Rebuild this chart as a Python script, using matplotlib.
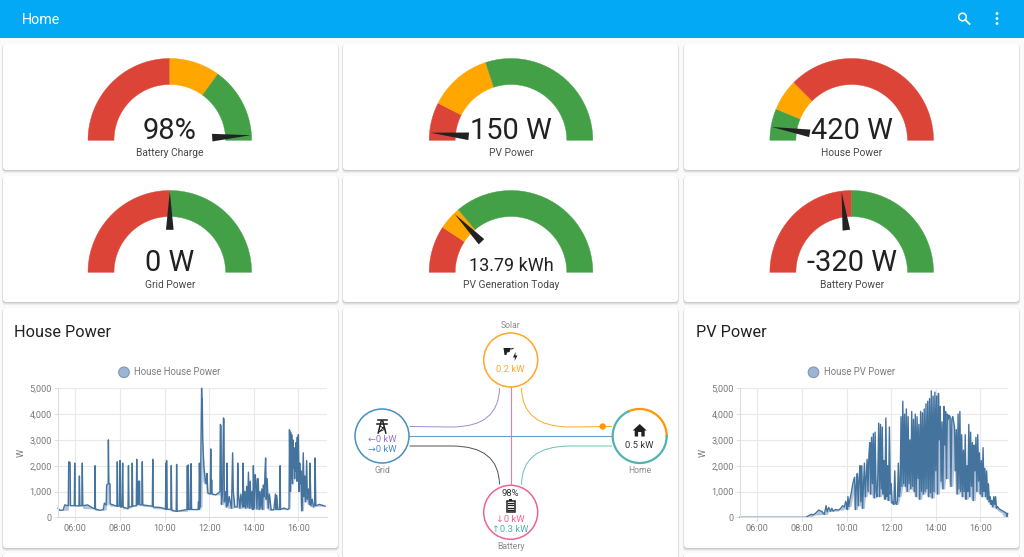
import numpy as np
import matplotlib
matplotlib.use('Agg')
import matplotlib.pyplot as plt
from matplotlib.patches import FancyBboxPatch, Circle, Polygon, Rectangle, PathPatch
from matplotlib.path import Path

plt.rcParams['font.family'] = ['Roboto', 'DejaVu Sans']

#%% Data

gauge_labels = ['Battery Charge', 'PV Power', 'House Power', 'Grid Power', 'PV Generation Today', 'Battery Power']
gauge_texts = ['98%', '150 W', '420 W', '0 W', '13.79 kWh', '-320 W']
gauge_values = [98, 150, 420, 0, 13.79, -320]
gauge_mins = [0, 0, 0, -5000, 0, -4000]
gauge_maxs = [100, 5000, 8000, 5000, 54, 4000]
# segment upper bounds and colours
RED, ORANGE, GREEN = '#db4437', '#ffa600', '#43a047'
gauge_stops = [[50, 70, 100], [750, 2000, 5000], [1000, 2000, 8000], [0, 5000], [10, 15, 54], [0, 4000]]
gauge_cols = [[RED, ORANGE, GREEN], [RED, ORANGE, GREEN], [GREEN, ORANGE, RED], [RED, GREEN], [RED, ORANGE, GREEN], [RED, GREEN]]

tick_hours = [6, 8, 10, 12, 14, 16]
tick_labels = ['06:00', '08:00', '10:00', '12:00', '14:00', '16:00']
y_ticks = [0, 1000, 2000, 3000, 4000, 5000]
y_labels = ['0', '1,000', '2,000', '3,000', '4,000', '5,000']

house_hours = [
    5.22, 5.30, 5.45, 5.52, 5.68, 5.70, 5.76, 5.78, 5.95, 5.97,
    5.99, 6.16, 6.18, 6.20, 6.29, 6.31, 6.33, 6.55, 6.80, 6.87,
    6.88, 6.90, 7.10, 7.25, 7.30, 7.38, 7.40, 7.47, 7.48, 7.50,
    7.55, 7.56, 7.86, 7.88, 7.90, 7.98, 8.00, 8.02, 8.08, 8.10,
    8.12, 8.14, 8.36, 8.38, 8.40, 8.53, 8.55, 8.57, 8.73, 8.75,
    8.77, 8.82, 8.83, 8.88, 8.89, 8.98, 9.00, 9.02, 9.45, 9.47,
    9.49, 9.80, 10.04, 10.06, 10.08, 10.09, 10.11, 10.28, 10.30, 10.32,
    10.52, 10.54, 10.56, 11.00, 11.02, 11.04, 11.06, 11.08, 11.15, 11.17,
    11.19, 11.21, 11.50, 11.52, 11.54, 11.56, 11.60, 11.66, 11.68, 11.69,
    11.71, 11.76, 11.83, 11.87, 11.90, 11.94, 12.05, 12.07, 12.09, 12.11,
    12.13, 12.30, 12.42, 12.48, 12.50, 12.53, 12.55, 12.60, 12.64, 12.66,
    12.68, 12.72, 12.78, 12.80, 12.83, 12.90, 13.00, 13.05, 13.08, 13.15,
    13.26, 13.28, 13.31, 13.38, 13.42, 13.50, 13.52, 13.55, 13.60, 13.64,
    13.68, 13.72, 13.76, 13.80, 13.84, 13.88, 13.92, 13.96, 13.98, 14.02,
    14.06, 14.10, 14.14, 14.18, 14.20, 14.24, 14.28, 14.32, 14.36, 14.40,
    14.43, 14.47, 14.50, 14.53, 14.56, 14.60, 14.65, 14.70, 14.78, 14.90,
    14.97, 15.00, 15.03, 15.08, 15.16, 15.18, 15.20, 15.35, 15.52, 15.58,
    15.60, 15.63, 15.65, 15.68, 15.70, 15.73, 15.75, 15.78, 15.80, 15.83,
    15.85, 15.88, 15.90, 15.93, 15.95, 15.98, 16.00, 16.03, 16.06, 16.09,
    16.12, 16.15, 16.18, 16.22, 16.25, 16.28, 16.32, 16.37, 16.40, 16.45,
    16.50, 16.52, 16.56, 16.62, 16.68, 16.73, 16.75, 16.78, 16.95, 17.20,
]
house_watts = [
    350, 270, 280, 480, 450, 2150, 2130, 450, 450, 2100,
    450, 440, 1600, 450, 450, 2100, 450, 480, 350, 330,
    2000, 320, 270, 300, 550, 480, 1250, 1300, 3000, 1300,
    1300, 520, 430, 2150, 430, 450, 2200, 400, 400, 1300,
    2100, 400, 330, 2000, 400, 420, 2100, 430, 450, 2250,
    500, 500, 1400, 1400, 480, 480, 2150, 480, 430, 2250,
    400, 380, 330, 2100, 300, 2200, 320, 300, 2000, 280,
    230, 2050, 230, 300, 2000, 300, 2030, 300, 300, 2050,
    2080, 300, 300, 600, 300, 2100, 400, 5000, 4000, 4600,
    3000, 2000, 1400, 1300, 1700, 950, 900, 2650, 950, 1450,
    900, 870, 950, 1000, 3600, 3550, 500, 1000, 3850, 3800,
    600, 1000, 400, 2100, 450, 800, 350, 2500, 1000, 400,
    400, 2100, 900, 350, 900, 400, 2100, 400, 1000, 350,
    1200, 400, 1750, 350, 1400, 350, 1000, 300, 2000, 350,
    1650, 1400, 320, 1500, 1400, 300, 1000, 350, 1100, 300,
    1250, 800, 1700, 2300, 700, 1500, 350, 900, 280, 300,
    900, 300, 850, 300, 300, 2000, 300, 360, 300, 350,
    3400, 1000, 3300, 1500, 3200, 1300, 3000, 1900, 2700, 1500,
    2600, 1800, 2900, 1400, 3100, 1500, 3200, 1000, 2100, 1300,
    1800, 250, 1100, 2500, 800, 1600, 600, 2200, 700, 1100,
    500, 2100, 450, 700, 400, 500, 2300, 450, 500, 430,
]

pv_hours = [
    5.22, 6.00, 7.00, 8.00, 8.17, 8.30, 8.42, 8.50, 8.60, 8.75,
    8.90, 9.00, 9.08, 9.13, 9.20, 9.28, 9.34, 9.40, 9.50, 9.62,
    9.72, 9.82, 9.90, 9.96, 10.00, 10.03, 10.06, 10.10, 10.14, 10.20,
    10.24, 10.28, 10.32, 10.36, 10.40, 10.44, 10.48, 10.52, 10.56, 10.60,
    10.64, 10.68, 10.72, 10.76, 10.80, 10.84, 10.88, 10.92, 10.96, 11.00,
    11.04, 11.08, 11.12, 11.16, 11.20, 11.24, 11.28, 11.32, 11.36, 11.40,
    11.44, 11.48, 11.52, 11.56, 11.60, 11.64, 11.68, 11.72, 11.76, 11.80,
    11.84, 11.88, 11.92, 11.96, 12.00, 12.04, 12.08, 12.12, 12.16, 12.20,
    12.24, 12.28, 12.32, 12.36, 12.40, 12.44, 12.48, 12.52, 12.56, 12.60,
    12.64, 12.68, 12.72, 12.76, 12.80, 12.84, 12.88, 12.92, 12.96, 13.00,
    13.04, 13.08, 13.12, 13.16, 13.20, 13.24, 13.28, 13.32, 13.36, 13.40,
    13.44, 13.48, 13.52, 13.56, 13.60, 13.64, 13.68, 13.72, 13.76, 13.80,
    13.84, 13.88, 13.92, 13.96, 14.00, 14.04, 14.08, 14.12, 14.16, 14.20,
    14.24, 14.28, 14.32, 14.36, 14.40, 14.44, 14.48, 14.52, 14.56, 14.60,
    14.64, 14.68, 14.72, 14.76, 14.80, 14.84, 14.88, 14.92, 14.96, 15.00,
    15.04, 15.08, 15.12, 15.16, 15.20, 15.24, 15.28, 15.32, 15.36, 15.40,
    15.44, 15.48, 15.52, 15.56, 15.60, 15.64, 15.68, 15.72, 15.76, 15.80,
    15.84, 15.88, 15.92, 15.96, 16.00, 16.04, 16.08, 16.12, 16.16, 16.20,
    16.24, 16.28, 16.32, 16.36, 16.40, 16.44, 16.48, 16.52, 16.56, 16.60,
    16.64, 16.68, 16.72, 16.76, 16.85, 16.95, 17.05, 17.15, 17.20, 17.22,
]
pv_watts = [
    0, 0, 0, 0, 0, 60, 120, 90, 150, 280,
    220, 110, 450, 220, 380, 230, 350, 240, 300, 280,
    330, 450, 400, 620, 500, 300, 800, 420, 650, 900,
    1100, 1300, 1450, 1550, 300, 1250, 1700, 450, 1500, 2000,
    600, 2000, 350, 1300, 2100, 800, 1500, 2250, 1000, 2400,
    2900, 900, 3100, 1300, 3250, 750, 3300, 1000, 800, 1600,
    3650, 800, 3600, 1100, 3500, 900, 2200, 700, 3850, 800,
    2000, 650, 3500, 900, 1300, 550, 600, 500, 1800, 550,
    500, 650, 2100, 800, 1000, 3900, 1200, 4500, 1300, 4000,
    1200, 4200, 1000, 3900, 1300, 3000, 1100, 4100, 1200, 3800,
    1000, 4000, 800, 3900, 1500, 3600, 700, 4100, 1000, 4050,
    900, 4200, 1000, 4400, 1100, 4500, 800, 4600, 950, 4900,
    750, 4700, 1000, 4850, 1800, 4700, 900, 4800, 3000, 4300,
    1400, 3700, 1100, 4300, 2800, 4100, 1500, 4000, 3800, 3950,
    3900, 1200, 3800, 3900, 3700, 3500, 1800, 3400, 900, 4000,
    1100, 4100, 1000, 3200, 800, 2600, 1000, 3200, 700, 2000,
    1000, 3600, 800, 3300, 1200, 2900, 650, 2800, 1800, 3100,
    1000, 3200, 1400, 2500, 900, 2200, 800, 2700, 1000, 1900,
    800, 1800, 700, 1300, 600, 800, 500, 650, 400, 800,
    500, 800, 350, 420, 320, 270, 220, 170, 30, 150,
]

#%% Page

W, H = 1024, 557
LINE = '#44739e'
TEXT = '#212121'
GREY = '#727272'
fig = plt.figure(figsize=(W/100, H/100), dpi=100, facecolor='#fafafa')
ax = fig.add_axes([0, 0, 1, 1])
ax.set_xlim(0, W)
ax.set_ylim(H, 0)
ax.axis('off')

def px(size):
    return size*0.72

def card(x0, y0, x1, y1):
    for off, grow, alpha in [(2.0, 1.0, 0.05), (1.0, 0.5, 0.10), (0.5, 0.0, 0.10)]:
        ax.add_patch(FancyBboxPatch((x0-grow, y0+off-grow), x1-x0+2*grow, y1-y0+2*grow,
                                    boxstyle='round,pad=0,rounding_size=3', fc='black', ec='none', alpha=alpha, zorder=1))
    ax.add_patch(FancyBboxPatch((x0, y0), x1-x0, y1-y0, boxstyle='round,pad=0,rounding_size=3',
                                fc='white', ec='none', zorder=2))

ax.add_patch(Rectangle((0, 0), W, 38, fc='#03a9f4', ec='none', zorder=5))
ax.text(22, 19.5, 'Home', color='white', fontsize=px(14.2), va='center', zorder=6)
ax.add_patch(Circle((962.5, 17), 3.8, fc='none', ec='white', lw=1.1, zorder=6))
ax.plot([965.5, 969.5], [20, 24], color='white', lw=1.3, zorder=6)
for yy in [13.5, 18.5, 23.5]:
    ax.add_patch(Circle((997, yy), 1.4, fc='white', ec='none', zorder=6))

col_x = [(3, 338), (343, 678), (684, 1019)]
row_y = [(44, 170), (176, 302)]
for r in row_y:
    for c in col_x:
        card(c[0], r[0], c[1], r[1])
card(3, 308, 338, 548)
card(684, 308, 1019, 548)
card(343, 308, 678, 570)
card(3, 553, 338, 570)
card(684, 553, 1019, 570)

#%% Gauges

def pol(cx, cy, r, frac):
    a = np.pi*(1-np.asarray(frac))
    return cx+r*np.cos(a), cy-r*np.sin(a)

def gauge(cx, cy, value, vmin, vmax, stops, cols, text, label):
    R, r = 81.8, 55.8
    start = 0.0
    for stop, col in zip(stops, cols):
        end = (stop-vmin)/(vmax-vmin)
        fr = np.linspace(start, end, 60)
        xo, yo = pol(cx, cy, R, fr)
        xi, yi = pol(cx, cy, r, fr[::-1])
        ax.add_patch(Polygon(np.c_[np.r_[xo, xi], np.r_[yo, yi]], fc=col, ec=col, lw=0.3, zorder=3))
        start = end
    f = (value-vmin)/(vmax-vmin)
    a = np.pi*(1-f)
    ux, uy = np.cos(a), -np.sin(a)
    nx, ny = -uy, ux
    bx, by = cx+42.5*ux, cy+42.5*uy
    ax.add_patch(Polygon([[bx+3.8*nx, by+3.8*ny], [bx-3.8*nx, by-3.8*ny], [cx+81*ux, cy+81*uy]],
                         fc='#222222', ec='none', zorder=4))
    size = 18.0 if text == '13.79 kWh' else 29.0
    ax.text(cx, cy-1.5, text, color=TEXT, fontsize=px(size), ha='center', va='baseline', zorder=5)
    ax.text(cx, cy+12.5, label, color='#4a4a4a', fontsize=px(10.3), ha='center', va='center', zorder=5)

centres = [(169.8, 140.3), (511, 140.3), (851.7, 140.3), (169.8, 272.3), (511, 272.3), (851.7, 272.3)]
for i, (cx, cy) in enumerate(centres):
    gauge(cx, cy, gauge_values[i], gauge_mins[i], gauge_maxs[i], gauge_stops[i], gauge_cols[i], gauge_texts[i], gauge_labels[i])

#%% Line charts

def history(x0, x1, y0, y1, hours, watts, title, title_x, legend, legend_x, ylabel_x):
    a = fig.add_axes([x0/W, 1-y1/H, (x1-x0)/W, (y1-y0)/H], zorder=3)
    a.patch.set_alpha(0)
    # the shade only shows between neighbouring peaks, not down to zero
    vals = np.asarray(watts, dtype=float)
    floor = np.array([vals[max(i-2, 0):i+3].min() for i in range(len(vals))])
    a.fill_between(hours, vals, floor, color='#9fb4d1', alpha=0.8, lw=0)
    a.plot(hours, watts, color=LINE, lw=1.0, solid_joinstyle='round', clip_on=False)
    a.set_xlim(5.22, 5.22+(x1-x0)/22.3)
    a.set_ylim(0, 5000)
    a.set_xticks(tick_hours)
    a.set_xticklabels(tick_labels)
    a.set_yticks(y_ticks)
    a.set_yticklabels(y_labels)
    a.grid(True, color='#e9e9e9', lw=0.8)
    a.set_axisbelow(True)
    a.tick_params(colors='#e0e0e0', labelcolor='#7a7a7a', labelsize=px(9.2), length=3, width=0.7, pad=1.5)
    for s in ['top', 'right']:
        a.spines[s].set_visible(False)
    for s in ['left', 'bottom']:
        a.spines[s].set_color('#dddddd')
        a.spines[s].set_linewidth(0.8)
    ax.text(title_x, 332.5, title, color=TEXT, fontsize=px(16.2), va='center', zorder=5)
    ax.add_patch(Circle((legend_x, 372.3), 5.3, fc='#9fb4d1', ec='#7c98bb', lw=0.8, zorder=5))
    ax.text(legend_x+10, 372.3, legend, color='#7f7f7f', fontsize=px(9.6), va='center', zorder=5)
    ax.text(ylabel_x, 453, 'W', color='#7a7a7a', fontsize=px(9.2), rotation=90, ha='center', va='center', zorder=5)

history(58, 326.7, 388.3, 517.3, house_hours, house_watts, 'House Power', 14, 'House House Power', 124, 21)
history(740, 1008, 388.3, 517.3, pv_hours, pv_watts, 'PV Power', 695.5, 'House PV Power', 813.5, 703)

#%% Energy flow card

SOLAR, GRID, HOME, BATT, PURPLE = '#ff9800', '#488fc2', '#4db6ac', '#f06292', '#9575cd'
sx, sy = 510.7, 360
gx, gy = 382, 436
hx, hy = 639.7, 436
bx, by = 510.7, 512.3
NR = 27

def curve(p0, p1, p2, p3, col):
    ax.add_patch(PathPatch(Path([p0, p1, p2, p3], [Path.MOVETO, Path.LINETO, Path.CURVE3, Path.CURVE3]),
                           fc='none', ec=col, lw=0.7, alpha=0.85, zorder=3))

curve((409.5, 426.5), (452, 427), (499, 427), (499.5, 388), PURPLE)
curve((409.5, 446), (452, 446), (499, 446), (499.5, 484.5), '#333333')
curve((612, 426.5), (570, 427), (522, 427), (521.5, 388), SOLAR)
curve((612, 446), (570, 446), (522, 446), (521.5, 484.5), HOME)
ax.plot([gx+NR, hx-NR], [gy, gy], color=GRID, lw=0.8, alpha=0.85, zorder=3)
ax.plot([bx, bx], [sy+NR, by-NR], color=BATT, lw=0.8, alpha=0.85, zorder=3.2)
ax.add_patch(Circle((602.7, 426.5), 3.2, fc=SOLAR, ec='none', zorder=4))

for (nx_, ny_), col in [((sx, sy), '#ffa726'), ((gx, gy), GRID), ((bx, by), BATT)]:
    ax.add_patch(Circle((nx_, ny_), NR, fc='white', ec=col, lw=1.1, zorder=4))
ax.add_patch(Circle((hx, hy), NR, fc='white', ec='none', zorder=4))
t = np.radians(np.linspace(0, 115, 60))
ax.plot(hx+NR*np.cos(t), hy-NR*np.sin(t), color=SOLAR, lw=1.6, zorder=5)
t = np.radians(np.linspace(115, 360, 120))
ax.plot(hx+NR*np.cos(t), hy-NR*np.sin(t), color=HOME, lw=1.6, zorder=5)

def label(x, y, s, col, size=9.4):
    ax.text(x, y, s, color=col, fontsize=px(size), ha='center', va='center', zorder=6)

label(sx, 325.3, 'Solar', '#8a8a8a', 8.6)
label(gx, 470.5, 'Grid', '#8a8a8a', 8.6)
label(hx, 470.5, 'Home', '#8a8a8a', 8.6)
label(bx, 546.5, 'Battery', '#8a8a8a', 8.6)
label(sx, 369, '0.2 kW', '#ffa726')
label(gx, 439.5, '←0 kW', PURPLE)
label(gx, 449.5, '→0 kW', GRID)
label(hx, 445, '0.5 kW', '#333333')
label(bx, 493.5, '98%', '#333333')
label(bx, 520, '↓0 kW', BATT)
label(bx, 529.5, '↑0.3 kW', HOME)

ICON = '#212121'
# home
ax.add_patch(Polygon([[hx, 424], [hx+7, 430.5], [hx+5, 430.5], [hx+5, 436.5], [hx+1.6, 436.5], [hx+1.6, 432],
                      [hx-1.6, 432], [hx-1.6, 436.5], [hx-5, 436.5], [hx-5, 430.5], [hx-7, 430.5]], fc=ICON, ec='none', zorder=6))
# battery
ax.add_patch(Rectangle((bx-3.8, 500.5), 7.6, 11.5, fc='none', ec=ICON, lw=1.1, zorder=6))
ax.add_patch(Rectangle((bx-1.6, 499), 3.2, 1.5, fc=ICON, ec='none', zorder=6))
for yy in [502.5, 505, 507.5, 510]:
    ax.plot([bx-2.3, bx+2.3], [yy, yy], color=ICON, lw=0.9, zorder=6)
# grid tower
ax.plot([gx-3.8, gx-0.8, gx+0.8, gx+3.8], [433, 421, 421, 433], color=ICON, lw=1.1, zorder=6)
ax.plot([gx-4.5, gx+4.5], [419.5, 419.5], color=ICON, lw=1.1, zorder=6)
ax.plot([gx-5, gx+5], [423.5, 423.5], color=ICON, lw=1.1, zorder=6)
ax.plot([gx-2, gx+3, gx-3, gx+2], [426, 429, 432, 427], color=ICON, lw=0.6, zorder=6)
# solar panel and bolt
ax.add_patch(Polygon([[503.5, 348], [511, 348], [509.5, 352], [507, 352.5], [506.5, 355], [504.5, 355]], fc=ICON, ec='none', zorder=6))
ax.plot([511.5, 513], [349, 348.5], color=ICON, lw=0.8, zorder=6)
ax.add_patch(Polygon([[515.5, 352], [513, 357.5], [515, 357.5], [514.5, 361], [517.5, 355.5], [515.5, 355.5]], fc=ICON, ec='none', zorder=6))

plt.savefig('out.png', dpi=100, facecolor=fig.get_facecolor())
plt.close()
